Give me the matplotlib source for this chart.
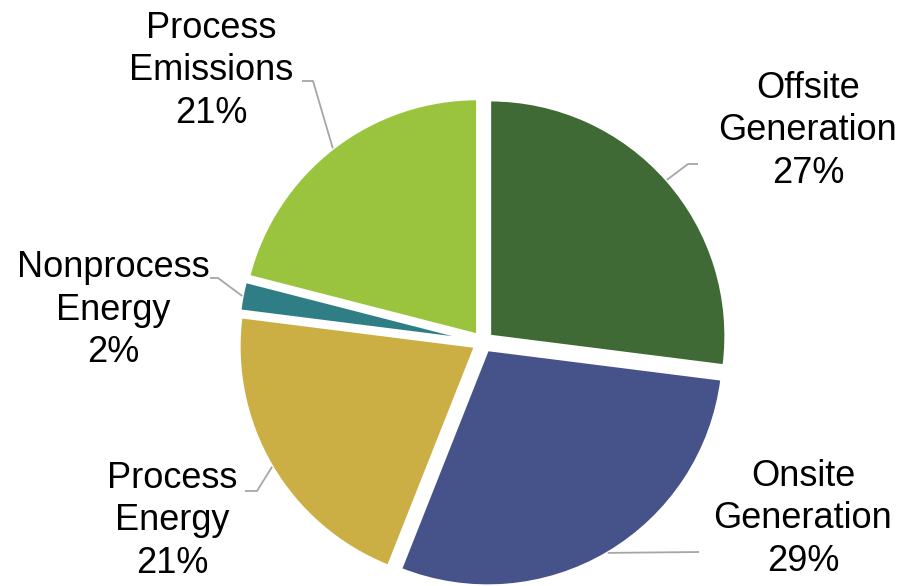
import numpy as np
import matplotlib
matplotlib.use("Agg")
import matplotlib.pyplot as plt

# data, clockwise from 12 o'clock
labels = ["Offsite\nGeneration", "Onsite\nGeneration", "Process\nEnergy",
          "Nonprocess\nEnergy", "Process\nEmissions"]
shares = [27, 29, 21, 2, 21]
colors = ["#3F6A35", "#46538A", "#CBAF45", "#2F7E85", "#9AC43E"]

# layout in pixels (y from top): label centre, leader elbow, leader end
W, H = 904, 586
label_pos = [(808, 131), (803, 519), (172, 521), (113, 310), (211, 71)]
elbows = [(688, 164), (699, 552), (257, 491), (218, 278), (313, 81)]
ends = [(698, 164), (699, 552), (245, 491), (210, 278), (302, 81)]

plt.rcParams['font.family'] = ['Liberation Sans', 'DejaVu Sans']

fig = plt.figure(figsize=(W / 100, H / 100), dpi=100)
ax = fig.add_axes([0, 0, 1, 1])

cx, cy, r = 483, H - 342, 236
# matplotlib's explode offset is in data units here (pixels)
wedges, _ = ax.pie(shares, colors=colors, startangle=90, counterclock=False,
                   center=(cx, cy), radius=r, explode=[9] * len(shares),
                   wedgeprops=dict(edgecolor="white", linewidth=2))
ax.set_xlim(0, W)
ax.set_ylim(0, H)
ax.set_aspect('auto')
ax.axis('off')

for w, lab, s, lp, el, en in zip(wedges, labels, shares, label_pos, elbows, ends):
    mid = np.deg2rad((w.theta1 + w.theta2) / 2)
    ax0 = w.center[0] + w.r * np.cos(mid)
    ay0 = w.center[1] + w.r * np.sin(mid)
    ax.plot([ax0, el[0], en[0]], [ay0, H - el[1], H - en[1]],
            color="#A6A6A6", lw=1.3, solid_capstyle='butt')
    ax.text(lp[0], H - lp[1], f"{lab}\n{s}%", ha='center', va='center',
            fontsize=26, color="black", linespacing=1.27)

fig.savefig("out.png", dpi=100)
